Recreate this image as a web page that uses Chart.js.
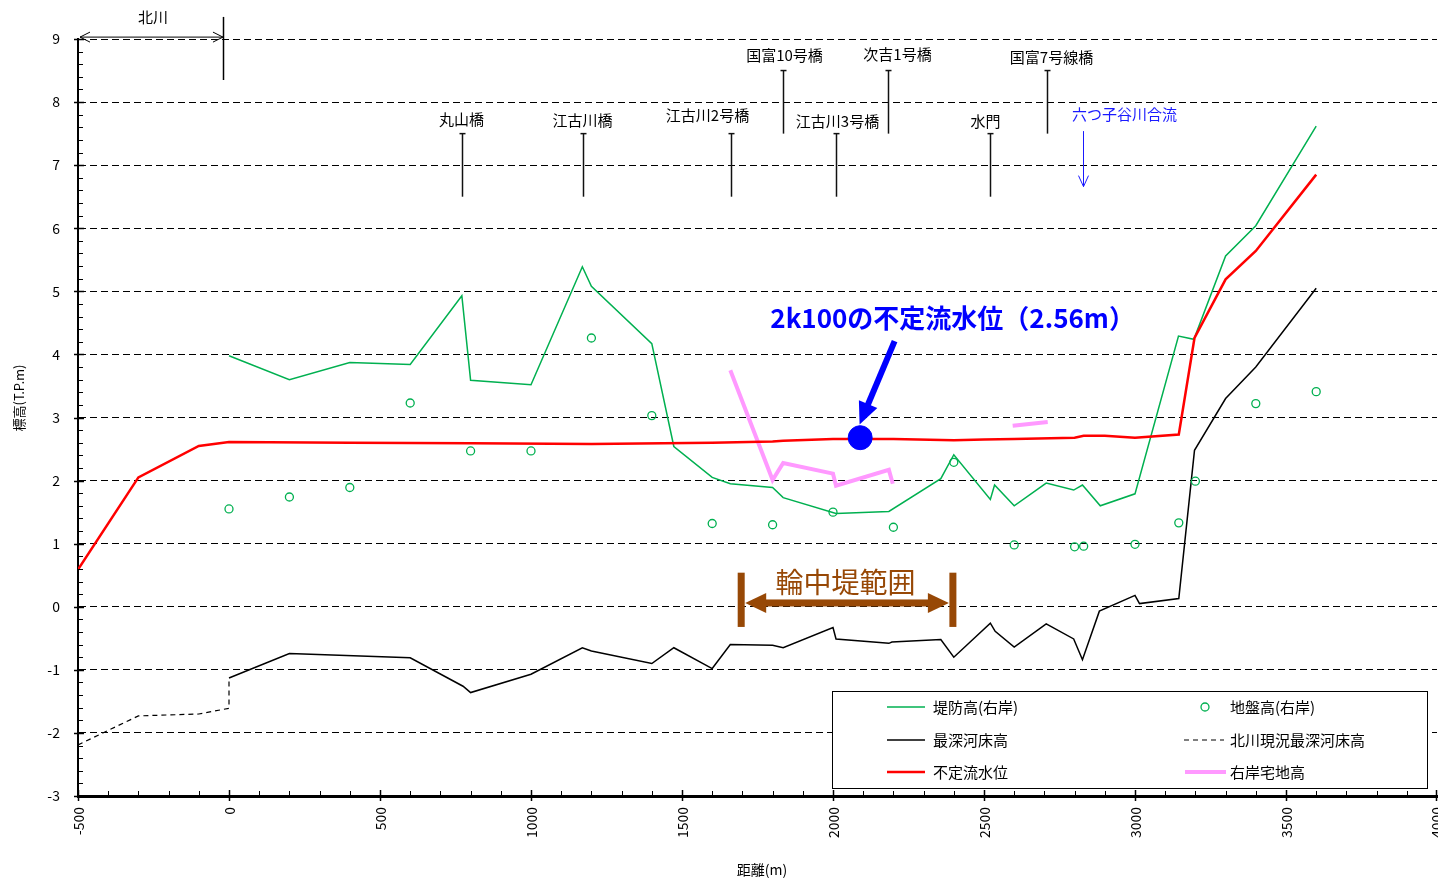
<!DOCTYPE html>
<html><head><meta charset="utf-8">
<script src="https://cdn.jsdelivr.net/npm/chart.js@4/dist/chart.umd.min.js"></script>
<style>html,body{margin:0;padding:0;background:#fff;overflow:hidden}canvas{display:block}</style>
</head><body>
<canvas id="c" width="1438" height="880"></canvas>
<script>
const FONT = '"Noto Sans CJK JP","Noto Sans",sans-serif';

// ---- data (distance m, elevation T.P.m) ----
const leveeX = [0,200,400,600,771,800,1000,1170,1200,1400,1473,1600,1660,1800,1835,2010,2185,2357,2400,2521,2535,2600,2706,2797,2826,2885,3000,3144,3195,3300,3400,3600];
const leveeY = [3.98,3.60,3.87,3.84,4.93,3.59,3.52,5.39,5.08,4.17,2.54,2.05,1.95,1.89,1.73,1.48,1.51,2.03,2.41,1.70,1.93,1.60,1.96,1.85,1.93,1.60,1.79,4.29,4.24,5.56,6.04,7.62];

const groundX = [0,200,400,600,800,1000,1200,1400,1600,1800,2000,2200,2400,2600,2800,2830,3000,3145,3200,3400,3600];
const groundY = [1.55,1.74,1.89,3.23,2.47,2.47,4.26,3.03,1.32,1.30,1.50,1.26,2.29,0.98,0.95,0.96,0.99,1.33,1.99,3.22,3.41];

const bedX = [0,200,600,775,800,1000,1170,1200,1400,1473,1600,1660,1800,1835,2000,2010,2185,2195,2357,2400,2521,2537,2600,2706,2797,2826,2882,3000,3015,3145,3197,3300,3400,3600];
const bedY = [-1.13,-0.74,-0.81,-1.26,-1.36,-1.07,-0.65,-0.70,-0.90,-0.65,-0.98,-0.60,-0.61,-0.65,-0.33,-0.51,-0.58,-0.56,-0.52,-0.80,-0.26,-0.39,-0.64,-0.27,-0.51,-0.84,-0.07,0.18,0.05,0.13,2.48,3.30,3.80,5.05];

const kitaX = [-500,-300,-100,0,0];
const kitaY = [-2.19,-1.73,-1.70,-1.61,-1.13];

const waterX = [-500,-300,-100,0,400,800,1200,1600,1800,1835,2000,2200,2400,2500,2600,2800,2830,2900,3000,3145,3197,3300,3400,3600];
const waterY = [0.59,2.05,2.55,2.61,2.60,2.59,2.58,2.60,2.62,2.63,2.66,2.66,2.64,2.65,2.66,2.68,2.71,2.71,2.68,2.73,4.26,5.19,5.64,6.85];

const houseX = [1660,1800,1835,2000,2010,2185,2198,2400,2595,2711];
const houseY = [3.75,2.01,2.28,2.11,1.92,2.17,1.95,null,2.87,2.93];

const pointX = [2090];
const pointY = [2.68];

const xTicks = {min:-500, max:4000, step:500, minor:100};
const yTicks = {min:-3, max:9, step:1, minor:0.2};

// bridges / structures (distance m)
const bridgeNames = ['丸山橋','江古川橋','江古川2号橋','国富10号橋','江古川3号橋','次吉1号橋','水門','国富7号線橋'];
const bridgeX = [771,1171,1661,1834,2009,2182,2521,2707];
const bridgeHigh = [false,false,false,true,false,true,false,true];

const seriesNames = ['堤防高(右岸)','地盤高(右岸)','最深河床高','北川現況最深河床高','不定流水位','右岸宅地高'];

// ---- layout for annotations (pixel offsets, not data) ----
const bridgeLabelDx = [-1,-1,-24,1,1,9,-5,4];
const bridgeLabelDy = [-14,-13,-18,-15,-12,-16,-12,-13];

const toPts = (xs, ys) => xs.map((v,i)=>({x:v, y:ys[i]}));

function seg(ctx,x1,y1,x2,y2){ctx.beginPath();ctx.moveTo(x1,y1);ctx.lineTo(x2,y2);ctx.stroke();}

const annot = {
  id:'annot',
  afterDraw(chart){
    const {ctx, chartArea:ca, scales:{x,y}} = chart;
    const X = v=>x.getPixelForValue(v), Y = v=>y.getPixelForValue(v);
    ctx.save();
    // ticks (inside) + x tick labels
    ctx.strokeStyle='#000'; ctx.fillStyle='#000';
    ctx.font='14px '+FONT; ctx.textAlign='right'; ctx.textBaseline='middle';
    for(let v=xTicks.min; v<=xTicks.max+1e-6; v+=xTicks.minor){
      const px=Math.min(Math.round(X(v))+0.5, ca.right-0.5);
      const major = Math.abs(v % xTicks.step) < 1e-6;
      if(major){
        ctx.lineWidth=1.5; seg(ctx,px,ca.bottom-6,px,ca.bottom+5);
        ctx.save(); ctx.translate(px, ca.bottom+11); ctx.rotate(-Math.PI/2);
        ctx.fillText(String(v),0,0); ctx.restore();
      } else {ctx.lineWidth=1; seg(ctx,px,ca.bottom-5,px,ca.bottom);}
    }
    for(let i=0; i<=Math.round((yTicks.max-yTicks.min)/yTicks.minor); i++){
      const v=yTicks.min+i*yTicks.minor;
      const py=Math.round(Y(v))+0.5;
      const major = Math.abs(v-Math.round(v))<1e-6;
      ctx.lineWidth = major?1.5:1;
      if(major) seg(ctx,ca.left-4,py,ca.left+6,py); else seg(ctx,ca.left,py,ca.left+5,py);
    }

    // bridges
    ctx.lineWidth=1.5; ctx.strokeStyle='#111';
    ctx.fillStyle='#000'; ctx.font='15px '+FONT; ctx.textAlign='center'; ctx.textBaseline='middle';
    bridgeX.forEach((bx,i)=>{
      const top = bridgeHigh[i]?8.5:7.5, bot = top-1;
      const px=Math.round(X(bx))+0.5;
      seg(ctx,px,Y(top),px,Y(bot));
      seg(ctx,px-3,Y(top),px+3,Y(top));
      ctx.fillText(bridgeNames[i], px+bridgeLabelDx[i], Y(top)+bridgeLabelDy[i]);
    });

    // 北川 range arrow
    const ky=Y(9.03), kx1=X(-500)+2, kx2=X(-20);
    ctx.lineWidth=1; ctx.strokeStyle='#000';
    seg(ctx,kx1,ky,kx2,ky);
    seg(ctx,kx1,ky,kx1+10,ky-5); seg(ctx,kx1,ky,kx1+10,ky+5);
    seg(ctx,kx2,ky,kx2-10,ky-5); seg(ctx,kx2,ky,kx2-10,ky+5);
    ctx.lineWidth=1.5;
    seg(ctx,Math.round(kx2)+0.5,Y(9.35),Math.round(kx2)+0.5,Y(8.35));
    ctx.fillText('北川', X(-252), Y(9.34));

    // 六つ子谷川合流
    ctx.fillStyle='#1a1aff'; ctx.strokeStyle='#1a1aff'; ctx.lineWidth=1;
    ctx.fillText('六つ子谷川合流', X(2965), Y(7.80));
    const mx=Math.round(X(2829))+0.5, my1=Y(7.54), my2=Y(6.66);
    seg(ctx,mx,my1,mx,my2);
    seg(ctx,mx,my2,mx-5,my2-11); seg(ctx,mx,my2,mx+5,my2-11);

    // big blue label + arrow
    ctx.fillStyle='#0000ff'; ctx.strokeStyle='#0000ff';
    ctx.font='bold 26px '+FONT;
    ctx.fillText('2k100の不定流水位（2.56m）', X(2396), Y(4.58));
    const tx=X(2204), ty=Y(4.21), hx=X(2088), hy=Y(2.89);
    const dx=hx-tx, dy=hy-ty, L=Math.hypot(dx,dy), ux=dx/L, uy=dy/L;
    const hl=22, hw=10;
    const bx=hx-ux*hl, by=hy-uy*hl;
    ctx.lineWidth=6; ctx.lineCap='butt';
    seg(ctx,tx,ty,bx+ux*2,by+uy*2);
    ctx.beginPath(); ctx.moveTo(hx,hy); ctx.lineTo(bx-uy*hw,by+ux*hw); ctx.lineTo(bx+uy*hw,by-ux*hw); ctx.closePath(); ctx.fill();

    // 輪中堤範囲
    const brown='#974806';
    ctx.fillStyle=brown;
    const lx=X(1696), rx=X(2397), t=Y(0.54), b=Y(-0.32), ay=Y(0.06);
    ctx.fillRect(lx-3.5,t,7,b-t); ctx.fillRect(rx-3.5,t,7,b-t);
    ctx.fillRect(lx+22,ay-3.5,rx-lx-44,7);
    ctx.beginPath(); ctx.moveTo(lx+4,ay); ctx.lineTo(lx+25,ay-10); ctx.lineTo(lx+25,ay+10); ctx.closePath(); ctx.fill();
    ctx.beginPath(); ctx.moveTo(rx-4,ay); ctx.lineTo(rx-25,ay-10); ctx.lineTo(rx-25,ay+10); ctx.closePath(); ctx.fill();
    ctx.font='28px '+FONT;
    ctx.fillText('輪中堤範囲', X(2041), Y(0.38));

    // axis titles
    ctx.fillStyle='#000'; ctx.font='13px '+FONT;
    ctx.save(); ctx.translate(19, 398); ctx.rotate(-Math.PI/2);
    ctx.fillText('標高(T.P.m)', 0, 0); ctx.restore();
    ctx.font='14px '+FONT;
    ctx.fillText('距離(m)', 762, 870);

    // legend
    const L0={x:832.5,y:691.5,w:595,h:97};
    ctx.fillStyle='#fff'; ctx.fillRect(L0.x,L0.y,L0.w,L0.h);
    ctx.strokeStyle='#000'; ctx.lineWidth=1; ctx.strokeRect(L0.x,L0.y,L0.w,L0.h);
    const rows=[707,740,772];
    ctx.font='15px '+FONT; ctx.textAlign='left'; ctx.fillStyle='#000';
    ctx.lineWidth=1.5; ctx.strokeStyle='#00b050'; seg(ctx,887,rows[0],925,rows[0]);
    ctx.strokeStyle='#000'; seg(ctx,887,rows[1],925,rows[1]);
    ctx.lineWidth=2.5; ctx.strokeStyle='#ff0000'; seg(ctx,887,rows[2],925,rows[2]);
    ctx.fillText(seriesNames[0],933,rows[0]);
    ctx.fillText(seriesNames[2],933,rows[1]);
    ctx.fillText(seriesNames[4],933,rows[2]);
    ctx.lineWidth=1.3; ctx.strokeStyle='#00b050';
    ctx.beginPath(); ctx.arc(1205,rows[0],4,0,Math.PI*2); ctx.stroke();
    ctx.lineWidth=1.2; ctx.strokeStyle='#000'; ctx.setLineDash([5,4]); seg(ctx,1184,rows[1],1224,rows[1]); ctx.setLineDash([]);
    ctx.lineWidth=4; ctx.strokeStyle='#ff99ff'; seg(ctx,1185,rows[2],1226,rows[2]);
    ctx.fillText(seriesNames[1],1230,rows[0]);
    ctx.fillText(seriesNames[3],1230,rows[1]);
    ctx.fillText(seriesNames[5],1230,rows[2]);
    ctx.restore();
  }
};

Chart.defaults.font.family = FONT;
new Chart(document.getElementById('c'), {
  type:'scatter',
  data:{datasets:[
    {label:'2k100', data:toPts(pointX,pointY), showLine:false, pointRadius:12, pointBackgroundColor:'#0000ff', pointBorderColor:'#0000ff', order:0},
    {label:seriesNames[4], data:toPts(waterX,waterY), showLine:true, borderColor:'#ff0000', borderWidth:2.5, pointRadius:0, order:1},
    {label:seriesNames[5], data:toPts(houseX,houseY), showLine:true, spanGaps:false, borderColor:'#ff99ff', borderWidth:4, pointRadius:0, order:2},
    {label:seriesNames[0], data:toPts(leveeX,leveeY), showLine:true, borderColor:'#00b050', borderWidth:1.5, pointRadius:0, order:3},
    {label:seriesNames[1], data:toPts(groundX,groundY), showLine:false, pointRadius:4, pointBorderWidth:1.3, pointBorderColor:'#00b050', pointBackgroundColor:'rgba(0,0,0,0)', order:4},
    {label:seriesNames[2], data:toPts(bedX,bedY), showLine:true, borderColor:'#000', borderWidth:1.5, pointRadius:0, order:5},
    {label:seriesNames[3], data:toPts(kitaX,kitaY), showLine:true, borderColor:'#000', borderWidth:1.2, borderDash:[5,4], pointRadius:0, order:6}
  ]},
  options:{
    responsive:false, animation:false, devicePixelRatio:1, events:[],
    layout:{autoPadding:false, padding:{top:39,right:1,left:0,bottom:0}},
    plugins:{legend:{display:false}, tooltip:{enabled:false}},
    scales:{
      x:{type:'linear', min:xTicks.min, max:xTicks.max,
         ticks:{display:false, stepSize:xTicks.step},
         grid:{display:false, drawTicks:false},
         border:{display:true, color:'#000', width:3},
         afterFit(s){s.height=84; s.paddingLeft=0; s.paddingRight=0;}},
      y:{type:'linear', min:yTicks.min, max:yTicks.max,
         ticks:{stepSize:yTicks.step, padding:18, color:'#000', font:{size:14}, callback:v=>String(v)},
         grid:{color:'#000', lineWidth:1, drawTicks:false},
         border:{display:true, color:'#000', width:2, dash:[7,4]},
         afterFit(s){s.width=78; s.paddingTop=0; s.paddingBottom=0;}}
    }
  },
  plugins:[annot]
});
</script>
</body></html>
